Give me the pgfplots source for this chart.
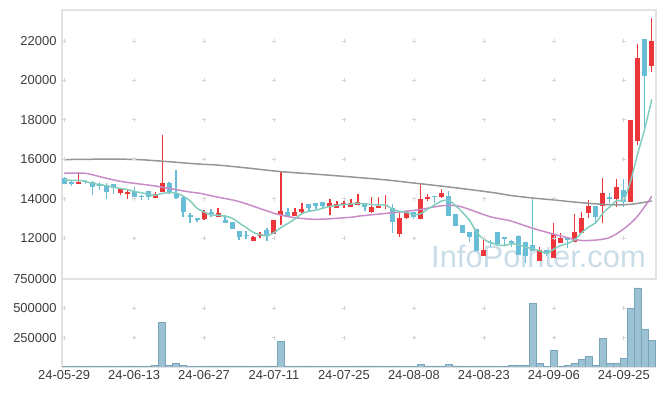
\documentclass[border=0pt]{standalone}
\usepackage{pgfplots}
\pgfplotsset{compat=1.18}
\usepackage{pgfplotstable}
\usepackage{fontspec}
\setmainfont{Liberation Sans}
\definecolor{cRed}{RGB}{236,54,58}
\definecolor{cBlue}{RGB}{104,190,214}
\definecolor{maTeal}{RGB}{130,205,190}
\definecolor{maPink}{RGB}{200,140,200}
\definecolor{maGrey}{RGB}{150,150,150}
\definecolor{borderC}{RGB}{226,226,226}
\definecolor{gridC}{RGB}{212,212,212}
\definecolor{labelC}{RGB}{60,60,60}
\definecolor{volFill}{RGB}{155,193,210}
\definecolor{volEdge}{RGB}{120,165,186}
\definecolor{wmC}{RGB}{202,220,231}
\newcommand{\tickfont}{\fontsize{13}{15}\selectfont}

\pgfplotstableread{
i o h l c
2 14760 15330 14720 14840
8 14285 14500 14200 14490
9 14250 14420 13960 14335
13 14050 14320 14030 14235
14 14350 17230 14330 14810
20 12980 13420 12920 13320
22 13080 13520 13060 13270
27 11870 12080 11850 12060
28 12120 12320 11985 12160
30 12190 12930 12180 12910
31 13170 15420 12660 13370
33 13130 13540 13120 13305
34 13305 13800 13290 13470
38 13590 13960 13150 13760
39 13540 13900 13520 13720
40 13700 13880 13540 13740
41 13590 13960 13580 13760
42 13675 14220 13660 13840
44 13305 14100 13290 13590
45 13540 14065 13530 13640
46 13620 14180 13460 13660
48 12190 13290 12030 13030
49 13000 13420 12990 13305
51 12950 14720 12940 13980
52 13990 14220 13880 14030
54 14065 14470 14050 14300
60 11100 11985 11090 11390
68 10850 11560 10840 11390
70 11000 12745 10990 12190
71 11760 12240 11750 11985
73 11815 13200 11800 12290
74 12270 13340 12260 13000
75 13290 13930 13000 13625
77 13640 15030 12745 14270
79 13980 15000 13590 14570
81 13840 18000 13830 17990
82 16940 21830 16720 21150
84 20750 23180 20440 22000
}\upT

\pgfplotstableread{
i o h l c
0 15050 15080 14720 14750
1 14800 14950 14650 14760
3 14880 14940 14740 14840
4 14840 14880 14180 14600
5 14660 14840 14440 14620
6 14690 14790 14000 14350
7 14720 14740 14220 14520
10 14385 14570 14080 14100
11 14100 14180 13930 14070
12 14385 14400 13950 14100
15 14810 14820 14250 14270
16 14300 15450 13990 14015
17 14050 14060 13080 13305
18 13170 13270 12780 13060
19 13030 13040 12800 12900
21 13280 13460 13080 13240
23 12910 13170 12770 12780
24 12800 12810 12450 12470
25 12355 12360 11885 12070
26 12120 12370 11950 12090
29 12390 12500 11850 12150
32 13340 13540 13120 13130
35 13710 13720 13340 13510
36 13760 13770 13460 13640
37 13810 13820 13540 13640
43 13760 13770 13390 13560
47 13510 13750 12230 12830
50 13305 13310 12965 13050
53 14130 14140 13760 14065
55 14150 14385 13120 13130
56 13200 13210 12600 12610
57 12660 12670 12250 12270
58 12300 12310 11810 12030
59 12450 12460 11340 11355
61 11790 11900 11560 11750
62 12290 12300 11680 11690
63 12000 12015 11640 11970
64 11850 11900 11560 11730
65 12120 12130 11130 11140
66 11815 11820 10720 11090
67 11640 13980 11340 11355
69 11390 11400 11100 11170
72 11950 12015 11475 11920
76 13625 13640 12710 13085
78 14100 14270 13760 13965
80 14440 15000 13560 13840
83 22100 22110 17430 20240
}\dnT

\pgfplotstableread{
i v
0 14940
1 14930
2 14920
3 14890
4 14758
5 14732
6 14650
7 14586
8 14516
9 14463
10 14359
11 14303
12 14219
13 14168
14 14263
15 14297
16 14286
17 14127
18 13892
19 13510
20 13320
21 13165
22 13158
23 13102
24 13016
25 12766
26 12536
27 12294
28 12170
29 12106
30 12274
31 12530
32 12744
33 12973
34 13237
35 13357
36 13411
37 13513
38 13604
39 13654
40 13700
41 13724
42 13764
43 13724
44 13698
45 13678
46 13658
47 13456
48 13350
49 13293
50 13175
51 13239
52 13479
53 13686
54 13885
55 13901
56 13627
57 13275
58 12868
59 12279
60 11931
61 11759
62 11643
63 11631
64 11706
65 11656
66 11524
67 11457
68 11341
69 11229
70 11439
71 11618
72 11731
73 11911
74 12277
75 12564
76 12784
77 13254
78 13589
79 13903
80 13946
81 14927
82 16303
83 17558
84 19044
}\maFive

\pgfplotstableread{
i v
0 15285
3 15285
5.5 15080
8.3 14860
13 14640
17.7 14350
19.4 14270
21.6 14100
25.1 13840
30.9 13170
35.6 12950
40.9 13050
42.3 13120
46 13250
50.4 13420
54.1 13640
56.6 13600
60.9 13080
63.7 12880
67 12490
71 12100
74 11873
77.6 11980
79.9 12440
81.9 13080
84 14113
}\maTwenty

\pgfplotstableread{
i v
0 15980
5 16000
10 15990
14 15900
19 15760
22 15700
26 15560
31 15370
36 15240
41 15100
46 14950
50 14790
55 14590
61 14320
64 14150
67 14030
70 13930
74 13790
78 13690
81 13710
84 13880
}\maLong

\pgfplotstableread{
i v
0 3000
1 3000
2 9000
3 3000
4 9000
5 3000
6 9000
7 3000
8 3000
9 9000
10 9000
11 3000
12 9000
13 16000
14 383000
15 15000
16 32000
17 17000
18 8000
19 3000
20 9000
21 9000
22 9000
23 9000
24 9000
25 9000
26 9000
27 3000
28 9000
29 9000
30 9000
31 217000
32 9000
33 3000
34 9000
35 9000
36 3000
37 3000
38 3000
39 3000
40 3000
41 3000
42 9000
43 9000
44 9000
45 9000
46 3000
47 9000
48 3000
49 3000
50 3000
51 23000
52 9000
53 9000
54 9000
55 23000
56 9000
57 9000
58 3000
59 9000
60 9000
61 9000
62 3000
63 3000
64 14000
65 14000
66 14000
67 539000
68 30000
69 8000
70 142000
71 8000
72 15000
73 30000
74 64000
75 92000
76 15000
77 247000
78 30000
79 30000
80 72000
81 497000
82 675000
83 322000
84 225000
}\volT

\begin{document}
\begin{tikzpicture}
\path[use as bounding box] (0bp,0bp) rectangle (665bp,396bp);
\node[anchor=base west, inner sep=0pt, text=wmC, font=\fontsize{31}{33}\selectfont] at (431bp,128bp) {InfoPointer.com};

\begin{axis}[
  at={(62bp,117bp)}, anchor=south west, scale only axis,
  width=594bp, height=269bp,
  xmin=-0.3, xmax=84.6, ymin=9919, ymax=23574,
  axis line style={draw=borderC, line width=1.2bp},
  xtick={0,10,...,80}, xticklabels={},
  ytick={12000,14000,16000,18000,20000,22000},
  yticklabels={12000,14000,16000,18000,20000,22000},
  scaled y ticks=false, scaled x ticks=false,
  major tick length=0pt,
  yticklabel style={font=\tickfont, text=labelC, xshift=-2bp},
]
\pgfplotsinvokeforeach{0,10,20,30,40,50,60,70,80}{
  \addplot[only marks, mark=+, mark size=2bp, gridC, line width=0.7bp, forget plot]
    coordinates {(#1,12000)(#1,14000)(#1,16000)(#1,18000)(#1,20000)(#1,22000)};
}
% wicks
\addplot[draw=none, forget plot, error bars/.cd, y dir=plus, y explicit, error mark=none,
  error bar style={draw=cRed, solid, line width=1.1bp}]
  table[x=i, y=l, y error expr=\thisrow{h}-\thisrow{l}] {\upT};
\addplot[draw=none, forget plot, error bars/.cd, y dir=plus, y explicit, error mark=none,
  error bar style={draw=cBlue, solid, line width=1.1bp}]
  table[x=i, y=l, y error expr=\thisrow{h}-\thisrow{l}] {\dnT};
% bodies
\addplot[draw=none, forget plot, error bars/.cd, y dir=plus, y explicit, error mark=none,
  error bar style={draw=cRed, solid, line width=5bp}]
  table[x=i, y=o, y error expr={max(\thisrow{c}-\thisrow{o},70)}] {\upT};
\addplot[draw=none, forget plot, error bars/.cd, y dir=plus, y explicit, error mark=none,
  error bar style={draw=cBlue, solid, line width=5bp}]
  table[x=i, y=c, y error expr={max(\thisrow{o}-\thisrow{c},70)}] {\dnT};
% moving averages
\addplot[maGrey, line width=1.5bp, smooth, no marks] table[x=i, y=v] {\maLong};
\addplot[maPink, line width=1.5bp, smooth, no marks] table[x=i, y=v] {\maTwenty};
\addplot[maTeal, line width=1.5bp, smooth, no marks] table[x=i, y=v] {\maFive};
\end{axis}

\begin{axis}[
  at={(62bp,29bp)}, anchor=south west, scale only axis,
  width=594bp, height=88bp,
  xmin=-0.3, xmax=84.6, ymin=0, ymax=750000,
  axis lines*=left,
  axis line style={draw=borderC, line width=1.2bp},
  xtick={0,10,...,80},
  xticklabels={24-05-29,24-06-13,24-06-27,24-07-11,24-07-25,24-08-08,24-08-23,24-09-06,24-09-25},
  ytick={250000,500000,750000},
  yticklabels={250000,500000,750000},
  scaled y ticks=false, scaled x ticks=false,
  major tick length=0pt,
  yticklabel style={font=\tickfont, text=labelC, xshift=-2bp},
  xticklabel style={font=\tickfont, text=labelC},
]
\pgfplotsinvokeforeach{0,10,20,30,40,50,60,70,80}{
  \addplot[only marks, mark=+, mark size=2bp, gridC, line width=0.7bp, forget plot]
    coordinates {(#1,250000)(#1,500000)};
}
\addplot[ybar, bar width=6.6bp, fill=volFill, draw=volEdge, line width=0.6bp] table[x=i, y=v] {\volT};
\end{axis}
\end{tikzpicture}
\end{document}
